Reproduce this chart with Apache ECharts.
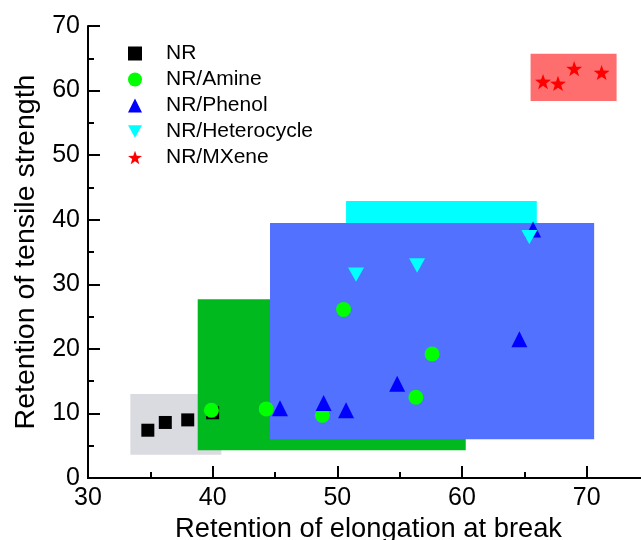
<!DOCTYPE html>
<html>
<head>
<meta charset="utf-8">
<script src="https://cdn.jsdelivr.net/npm/echarts@6/dist/echarts.min.js"></script>
<style>
  html, body { margin: 0; padding: 0; background: #ffffff; }
  #chart { width: 641px; height: 540px; }
</style>
</head>
<body>
<div id="chart"></div>
<script>
(function () {
  'use strict';

  // ── Data ───────────────────────────────────────────────────────────────────

  var seriesNames = ['NR', 'NR/Amine', 'NR/Phenol', 'NR/Heterocycle', 'NR/MXene'];

  var nrData     = [[34.8, 7.4], [36.2, 8.6], [38.0, 9.0], [40.0, 10.1]];
  var amineData  = [[39.9, 10.5], [44.3, 10.7], [48.8, 9.7], [50.5, 26.1], [57.6, 19.2], [56.3, 12.5]];
  var phenolData = [[45.4, 10.8], [48.9, 11.6], [50.7, 10.5], [54.8, 14.6], [64.6, 21.5], [65.7, 38.5]];
  var heteroData = [[51.5, 31.5], [56.4, 32.9], [65.4, 37.3]];
  var mxeneData  = [[66.5, 61.4], [67.7, 61.1], [69.0, 63.4], [71.2, 62.8]];

  // shaded regions: [xFrom, xTo, yFrom, yTo], drawn in this order
  var regionData = [
    [33.4, 40.7, 3.6, 13.0],   // NR
    [38.8, 60.3, 4.3, 27.7],   // Amine
    [50.7, 66.0, 38.0, 42.9],  // Heterocycle
    [44.6, 70.6, 6.0, 39.5],   // Phenol
    [65.5, 72.4, 58.4, 65.7]   // MXene
  ];
  var regionColors = ['#dadae1', '#00b91f', '#00ffff', '#5271ff', '#ff6e6e'];

  var xTicks = { min: 30, max: 75, interval: 10 };
  var yTicks = { min: 0, max: 70, interval: 10 };

  // ── Chart ──────────────────────────────────────────────────────────────────

  var font = 'Liberation Sans, Arial, sans-serif';
  var black = '#000000';
  var starPath = 'path://M0,-10L2.35,-3.24L9.51,-3.09L3.80,1.24L5.88,8.09L0,4L-5.88,8.09L-3.80,1.24L-9.51,-3.09L-2.35,-3.24Z';
  var downTriangle = 'path://M0,0L10,0L5,9Z';

  function axisBase(nameSize) {
    return {
      axisLine: { show: true, onZero: false, lineStyle: { color: black, width: 2 } },
      axisTick: { show: true, inside: true, length: 12, lineStyle: { color: black, width: 2 } },
      minorTick: { show: true, splitNumber: 2, length: 6, lineStyle: { color: black, width: 2 } },
      splitLine: { show: false },
      axisLabel: { color: black, fontFamily: font, fontSize: 25, margin: 8 },
      nameTextStyle: { color: black, fontFamily: font, fontSize: nameSize }
    };
  }

  var xAxis = axisBase(27.3);
  xAxis.type = 'value';
  xAxis.min = xTicks.min;
  xAxis.max = xTicks.max;
  xAxis.interval = xTicks.interval;
  xAxis.name = 'Retention of elongation at break';
  xAxis.nameLocation = 'middle';
  xAxis.nameGap = 30;
  xAxis.axisLabel.showMaxLabel = false;

  var yAxis = axisBase(28.5);
  yAxis.type = 'value';
  yAxis.min = yTicks.min;
  yAxis.max = yTicks.max;
  yAxis.interval = yTicks.interval;
  yAxis.name = 'Retention of tensile strength';
  yAxis.nameLocation = 'middle';
  yAxis.nameGap = 47;

  var topAxis = {
    type: 'value', position: 'top', min: xTicks.min, max: xTicks.max,
    axisLine: { show: true, lineStyle: { color: black, width: 2 } },
    axisTick: { show: false }, axisLabel: { show: false }, splitLine: { show: false }
  };

  function scatter(name, data, symbol, size, color) {
    return {
      name: name,
      type: 'scatter',
      data: data,
      symbol: symbol,
      symbolSize: size,
      symbolKeepAspect: true,
      itemStyle: { color: color, opacity: 1 },
      z: 5
    };
  }

  var legendIcons = ['rect', 'circle', 'triangle', downTriangle, starPath];

  var option = {
    animation: false,
    backgroundColor: '#ffffff',
    grid: { left: 88, right: -8, top: 26, bottom: 62, outerBoundsMode: 'none', containLabel: false },
    xAxis: [xAxis, topAxis],
    yAxis: yAxis,
    legend: {
      data: seriesNames.map(function (n, i) { return { name: n, icon: legendIcons[i] }; }),
      orient: 'vertical',
      left: 123,
      top: 38,
      itemWidth: 14,
      itemHeight: 14,
      itemGap: 5,
      textStyle: { color: black, fontFamily: font, fontSize: 21, padding: [0, 0, 0, 19] }
    },
    series: [
      {
        type: 'custom',
        data: regionData,
        encode: { x: [0, 1], y: [2, 3] },
        z: 1,
        silent: true,
        renderItem: function (params, api) {
          var p0 = api.coord([api.value(0), api.value(3)]);
          var p1 = api.coord([api.value(1), api.value(2)]);
          return {
            type: 'rect',
            shape: { x: p0[0], y: p0[1], width: p1[0] - p0[0], height: p1[1] - p0[1] },
            style: { fill: regionColors[params.dataIndex] }
          };
        }
      },
      scatter('NR', nrData, 'rect', 13, black),
      scatter('NR/Amine', amineData, 'circle', 15, '#00ff00'),
      scatter('NR/Phenol', phenolData, 'triangle', 16, '#0000ff'),
      scatter('NR/Heterocycle', heteroData, downTriangle, 16, '#00ffff'),
      scatter('NR/MXene', mxeneData, starPath, 16, '#ff0000')
    ]
  };

  var chart = echarts.init(document.getElementById('chart'), null, { renderer: 'canvas' });
  chart.setOption(option);
})();
</script>
</body>
</html>
